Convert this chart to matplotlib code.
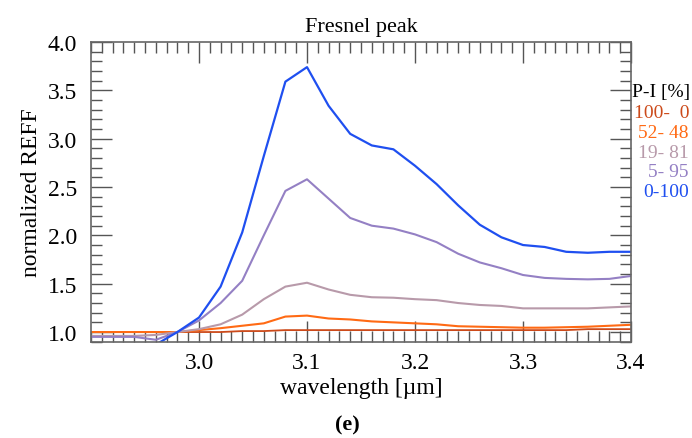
import matplotlib
matplotlib.use("Agg")
import matplotlib.pyplot as plt
from matplotlib.ticker import MultipleLocator

plt.rcParams['font.family'] = ['Liberation Serif', 'DejaVu Serif']

wavelength = [2.90, 2.92, 2.94, 2.96, 2.98, 3.00, 3.02, 3.04, 3.06, 3.08, 3.10,
              3.12, 3.14, 3.16, 3.18, 3.20, 3.22, 3.24, 3.26, 3.28, 3.30,
              3.32, 3.34, 3.36, 3.38, 3.40]

reff_100_0 = [1.00, 1.00, 1.00, 1.00, 1.00, 1.00, 1.00, 1.01, 1.01, 1.02, 1.02,
              1.02, 1.02, 1.02, 1.02, 1.02, 1.02, 1.02, 1.02, 1.02, 1.02,
              1.02, 1.02, 1.03, 1.03, 1.03]
reff_52_48 = [1.00, 1.00, 1.00, 1.00, 1.00, 1.02, 1.04, 1.065, 1.09, 1.16, 1.17,
              1.14, 1.13, 1.11, 1.10, 1.09, 1.08, 1.06, 1.055, 1.05, 1.045,
              1.045, 1.05, 1.055, 1.065, 1.075]
reff_19_81 = [0.96, 0.96, 0.96, 0.97, 1.00, 1.03, 1.08, 1.18, 1.34, 1.47, 1.51,
              1.44, 1.385, 1.36, 1.355, 1.34, 1.33, 1.30, 1.28, 1.27, 1.245,
              1.245, 1.245, 1.245, 1.255, 1.265]
reff_5_95 = [0.95, 0.95, 0.95, 0.92, 1.00, 1.12, 1.30, 1.53, 2.00, 2.46, 2.58,
             2.38, 2.18, 2.10, 2.07, 2.01, 1.93, 1.81, 1.72, 1.66, 1.59,
             1.56, 1.55, 1.545, 1.55, 1.58]
reff_0_100 = [0.85, 0.85, 0.86, 0.87, 1.00, 1.15, 1.47, 2.03, 2.82, 3.59, 3.74,
              3.34, 3.05, 2.93, 2.89, 2.72, 2.53, 2.31, 2.11, 1.98, 1.90,
              1.88, 1.83, 1.82, 1.83, 1.83]

labels = ["100-  0", "52- 48", "19- 81", "5- 95", "0-100"]
series = [reff_100_0, reff_52_48, reff_19_81, reff_5_95, reff_0_100]
colors = ["#cc4a1a", "#ff6a14", "#b89aaa", "#9480c4", "#1f4ff0"]
widths = [1.3, 1.5, 1.5, 1.5, 1.6]

W, H = 692, 439
fig = plt.figure(figsize=(W / 100, H / 100), dpi=100)
ax = fig.add_axes([91 / W, 1 - 343 / H, (631 - 91) / W, (343 - 43) / H])

for ys, c, lw in zip(series, colors, widths):
    ax.plot(wavelength, ys, color=c, lw=lw)

ax.set_xlim(2.9, 3.4)
ax.set_ylim(0.897, 4.0)
ax.set_xticks([3.0, 3.1, 3.2, 3.3, 3.4])
ax.set_yticks([1.0, 1.5, 2.0, 2.5, 3.0, 3.5, 4.0])
ax.xaxis.set_minor_locator(MultipleLocator(0.01))
ax.yaxis.set_minor_locator(MultipleLocator(0.1))
ax.tick_params(which='both', direction='in', top=True, right=True,
               color='#555555', width=1.0, labelsize=17)
ax.tick_params(axis='x', pad=7)
ax.tick_params(axis='y', pad=10)
ax.tick_params(which='major', length=15)
ax.tick_params(which='minor', length=8)
for s in ax.spines.values():
    s.set_color('#666666')
    s.set_linewidth(1.2)

ax.set_title("Fresnel peak", fontsize=16, pad=8)
ax.set_xlabel("wavelength [µm]", fontsize=17, labelpad=3)
ax.set_ylabel("normalized REFF", fontsize=17, labelpad=4)

fig.text(632 / W, 1 - 93 / H, "P-I [%]", fontsize=14, ha='left', va='center', color='black')
ys_px = [113, 133, 153, 173, 193]
for lab, c, yp in zip(labels, colors, ys_px):
    fig.text(689 / W, 1 - yp / H, lab, fontsize=14, ha='right', va='center', color=c)

fig.text(347 / W, 1 - 425 / H, "(e)", fontsize=16, fontweight='bold', ha='center', va='center')

fig.savefig("out.png", dpi=100)
